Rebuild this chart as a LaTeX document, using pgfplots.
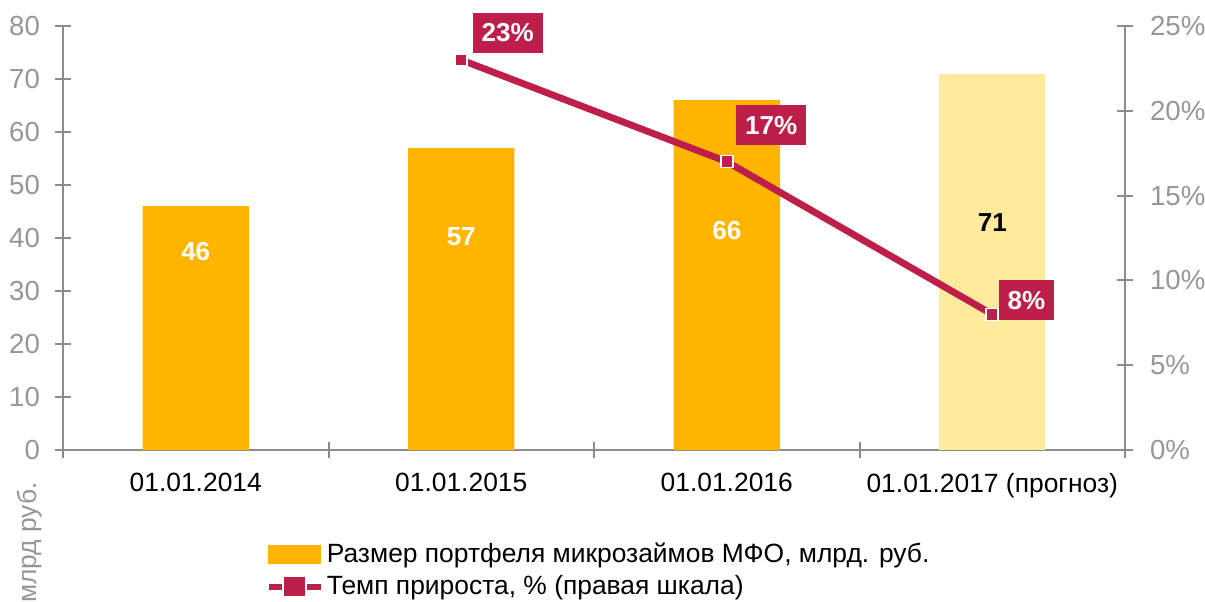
\documentclass[border=0pt]{standalone}
\usepackage{fontspec}
\setmainfont{Liberation Sans}
\usepackage{pgfplots}
\pgfplotsset{compat=1.18}
\definecolor{barorange}{RGB}{255,181,0}
\definecolor{barlight}{RGB}{253,234,157}
\definecolor{crimson}{RGB}{190,30,74}
\definecolor{axgray}{RGB}{140,140,140}
\definecolor{txtgray}{RGB}{150,150,150}

\begin{document}
\begin{tikzpicture}
\pgfplotsset{
  every axis/.append style={
    scale only axis, width=531pt, height=212pt,
    at={(0,0)}, anchor=south west,
    xmin=0, xmax=4,
    tick align=center,
    axis line style={axgray, line width=1pt},
    tick style={axgray, line width=1pt},
    major tick length=8pt,
    minor tick length=8pt,
    font=\fontsize{13.2}{15}\selectfont,
    clip=false,
  },
}
% left axis: portfolio size
\begin{axis}[
  axis x line*=bottom, axis y line*=left,
  ymin=0, ymax=80, ytick={0,10,...,80},
  yticklabels={0,10,20,30,40,50,60,70,80},
  yticklabel style={txtgray, xshift=-4pt, font=\fontsize{13.8}{15}\selectfont},
  xtick={0.5,1.5,2.5,3.5},
  xticklabels={01.01.2014,01.01.2015,01.01.2016,01.01.2017 (прогноз)},
  xticklabel style={black, yshift=-4pt},
  major x tick style={draw=none},
  minor xtick={0,1,2,3,4},
]
\addplot[ybar, bar width=0.4, fill=barorange, draw=none] coordinates {(0.5,46) (1.5,57) (2.5,66)};
\addplot[ybar, bar width=0.4, fill=barlight, draw=none] coordinates {(3.5,71)};
\node[white, font=\fontsize{13}{15}\selectfont\bfseries] at (axis cs:0.5,37.4) {46};
\node[white, font=\fontsize{13}{15}\selectfont\bfseries] at (axis cs:1.5,40.2) {57};
\node[white, font=\fontsize{13}{15}\selectfont\bfseries] at (axis cs:2.5,41.5) {66};
\node[black, font=\fontsize{13}{15}\selectfont\bfseries] at (axis cs:3.5,43) {71};
\end{axis}

% right axis: growth rate
\begin{axis}[
  axis x line=none, axis y line*=right,
  ymin=0, ymax=25, ytick={0,5,...,25},
  yticklabels={0\%,5\%,10\%,15\%,20\%,25\%},
  yticklabel style={txtgray, xshift=5pt, font=\fontsize{13.8}{15}\selectfont},
  legend style={at={(0.185,-0.2)}, anchor=north west, draw=none, fill=none,
    font=\fontsize{13.2}{15}\selectfont, row sep=1pt,
    nodes={inner xsep=1.5pt}},
  legend cell align=left,
]
\addlegendimage{legend image code/.code={\fill[barorange] (0pt,-4.5pt) rectangle (26pt,4.5pt);}}
\addlegendentry{Размер портфеля микрозаймов МФО, млрд. руб.}
\addplot[crimson, line width=3.4pt, mark=square*, mark size=3pt,
  mark options={fill=crimson, draw=white, line width=0.8pt},
  legend image code/.code={
    \draw[crimson, line width=3pt] (0pt,0pt) -- (26pt,0pt);
    \fill[white] (8.5pt,-3.8pt) rectangle (17.5pt,3.8pt);
    \fill[crimson] (9.5pt,-3pt) rectangle (16.5pt,3pt);}]
  coordinates {(1.5,23) (2.5,17) (3.5,8)};
\addlegendentry{Темп прироста, \% (правая шкала)}
\tikzset{lbl/.style={fill=crimson, text=white, font=\fontsize{13}{15}\selectfont\bfseries,
  inner xsep=4.5pt, inner ysep=0pt, minimum height=20pt, text height=9.3pt, text depth=0pt,
  anchor=south west}}
\node[lbl] at ([xshift=5.5pt, yshift=3.5pt]axis cs:1.5,23) {23\%};
\node[lbl] at ([xshift=4.5pt, yshift=8pt]axis cs:2.5,17) {17\%};
\node[lbl] at ([xshift=3pt, yshift=-3pt]axis cs:3.5,8) {8\%};
\end{axis}

\node[rotate=90, anchor=east, text=txtgray, font=\fontsize{13.2}{15}\selectfont] at (-16.5pt,-12.5pt) {млрд руб.};

\pgfresetboundingbox
\useasboundingbox (-31.5pt,-75.5pt) rectangle (571pt,225pt);
\end{tikzpicture}
\end{document}
